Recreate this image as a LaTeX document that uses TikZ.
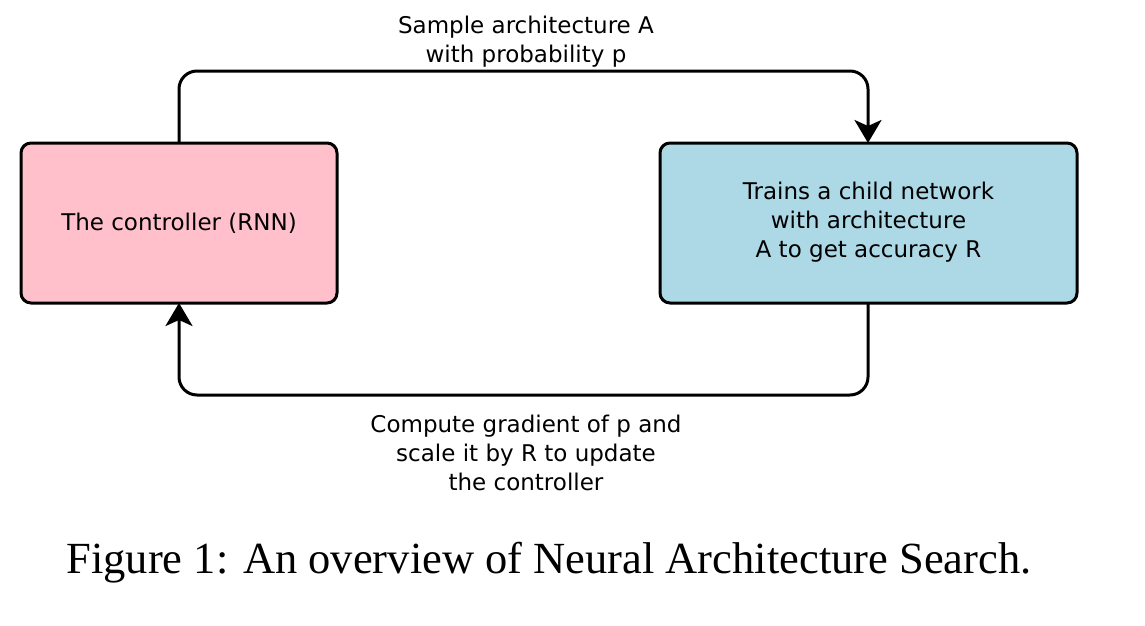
\documentclass[tikz,border=0pt]{standalone}
\usepackage{fontspec}
\setmainfont{Liberation Serif}
\newfontfamily\dejavu{DejaVu Sans}
\usetikzlibrary{arrows.meta}
\begin{document}
\begin{tikzpicture}[x=1pt,y=-1pt,
  box/.style={draw=black, line width=3pt, rounded corners=10pt, inner sep=0pt},
  conn/.style={draw=black, line width=3pt, rounded corners=18pt, -{Stealth[length=23pt,width=27pt,inset=6pt]}},
  lbl/.style={font=\dejavu\fontsize{23}{29}\selectfont, align=center, inner sep=0pt},
  captionstyle/.style={font=\fontsize{44.5}{50}\selectfont, inner sep=0pt}]
\useasboundingbox (0,0) rectangle (1145,626);
\definecolor{pinkbox}{RGB}{255,192,203}
\definecolor{bluebox}{RGB}{173,216,230}
\node[box, fill=pinkbox, minimum width=316pt, minimum height=160pt] (ctrl) at (179,223) {};
\node[lbl] (ctrltxt) at (179,223) {The controller (RNN)};
\node[box, fill=bluebox, minimum width=417pt, minimum height=160pt] (child) at (868.5,223) {};
\node[lbl] (childtxt) at (868.5,222) {Trains a child network\\with architecture\\A to get accuracy R};
\coordinate (ctop) at (179,143);
\coordinate (ntop) at (868,143);
\coordinate (nbot) at (868,303);
\coordinate (cbot) at (179,303);
\draw[conn] (ctop) -- (179,71) -- (868,71) -- (ntop);
\draw[conn] (nbot) -- (868,395) -- (179,395) -- (cbot);
\node[lbl] (toplbl) at (526,42) {Sample architecture A\\with probability p};
\node[lbl] (botlbl) at (526,453) {Compute gradient of p and\\scale it by R to update\\the controller};
\node[captionstyle] (caption) at (549,563) {Figure 1: An overview of Neural Architecture Search.};
\end{tikzpicture}
\end{document}
